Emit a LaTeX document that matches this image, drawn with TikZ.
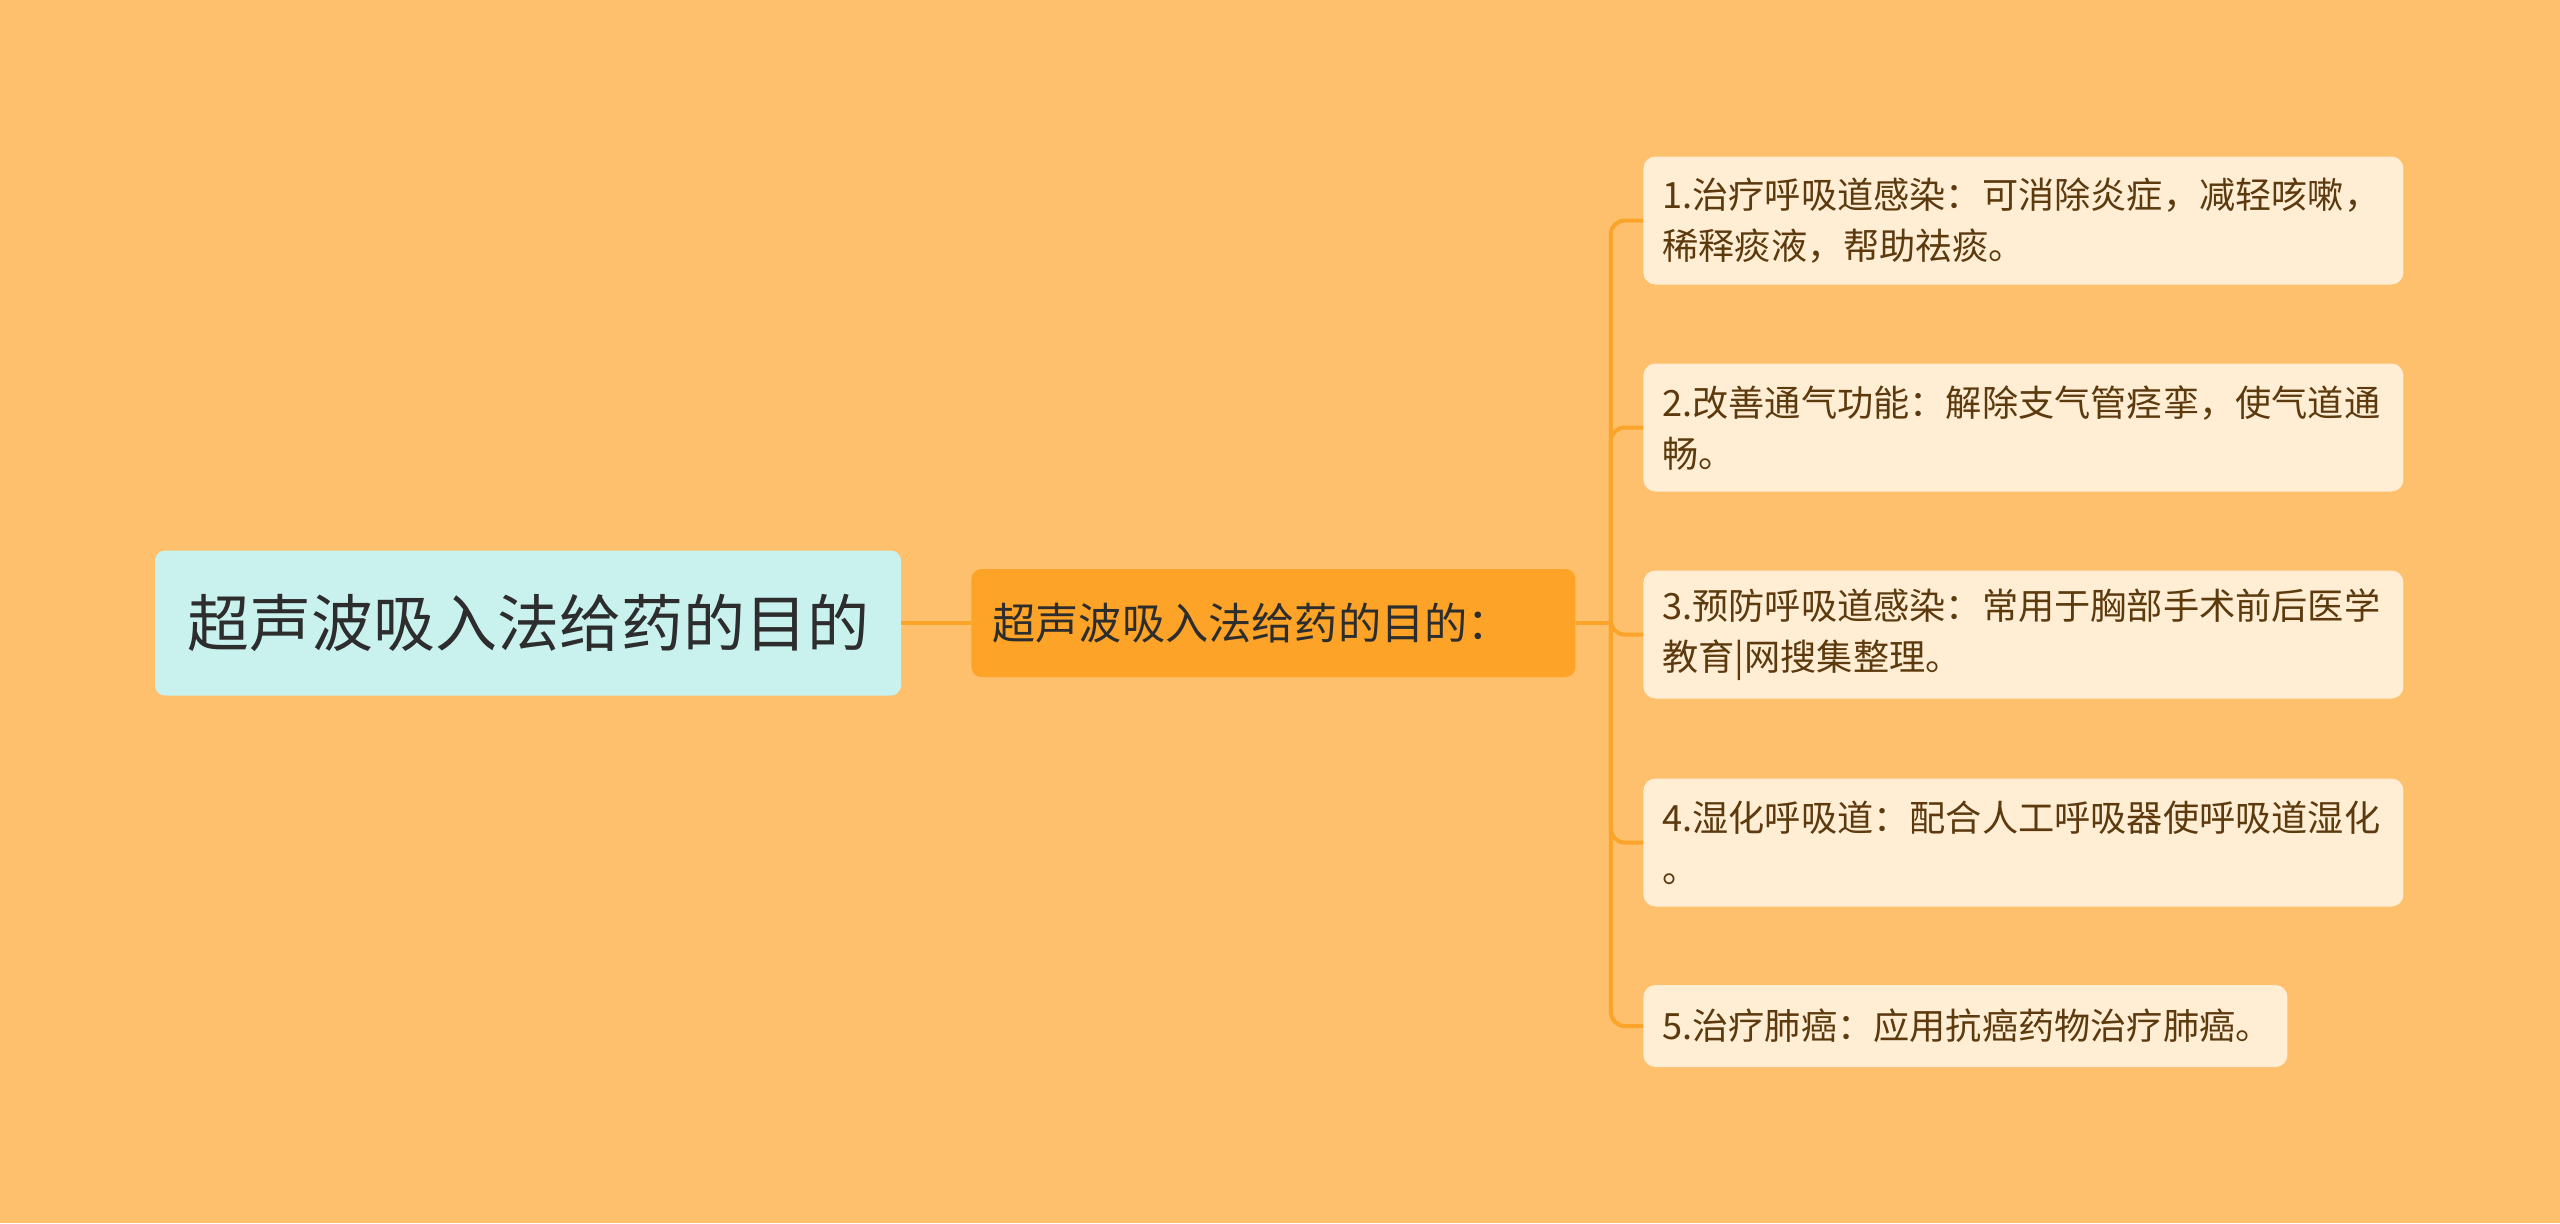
\documentclass[tikz,border=0pt]{standalone}
\usepackage{fontspec}
\setmainfont{Noto Sans CJK SC}
\usetikzlibrary{positioning}
\definecolor{colorbg}    {RGB}{254,192,108}
\definecolor{colorroot}  {RGB}{201,242,239}
\definecolor{colormid}   {RGB}{253,164,40}
\definecolor{colorleaf}  {RGB}{255,237,212}
\definecolor{colorline}  {RGB}{250,165,42}
\definecolor{colortext}  {RGB}{45,45,45}
\definecolor{colorbrown} {RGB}{92,58,14}

\begin{document}
\begin{tikzpicture}[
    x=0.5pt, y=-0.5pt,
    base/.style={rectangle,rounded corners=5pt,inner sep=0pt,align=center},
    rootnode/.style={base,fill=colorroot,text=colortext,font={\fontsize{31}{37}\selectfont},
        minimum width=373pt,minimum height=72.5pt},
    midnode/.style={base,fill=colormid,text=colortext,font={\fontsize{21.6}{26}\selectfont},
        minimum width=302pt,minimum height=54pt,inner xsep=10.5pt,text width=281pt,align=left},
    leafnode/.style={base,rounded corners=6pt,fill=colorleaf,text=colorbrown,anchor=west,
        font={\fontsize{18.1}{25.5}\selectfont},inner xsep=9.5pt,align=left,text width=361pt,
        minimum height=64pt},
    line/.style={draw=colorline,line width=2pt},
    branch/.style={line,rounded corners=7pt},
]

    % Background
    \fill[colorbg] (0,0) rectangle (2560,1223);
    \useasboundingbox (0,0) rectangle (2560,1223);

    % Nodes
    \node[rootnode] (root) at (528,623) {超声波吸入法给药的目的};
    \node[midnode,anchor=west] (mid) at (971,623) {超声波吸入法给药的目的：};

    % Leaves
    \node[leafnode] (leaf1) at (1643,220.5) {1.治疗呼吸道感染：可消除炎症，减轻咳嗽，\\稀释痰液，帮助祛痰。};
    \node[leafnode] (leaf2) at (1643,427.5) {2.改善通气功能：解除支气管痉挛，使气道通\\畅。};
    \node[leafnode] (leaf3) at (1643,634.5) {3.预防呼吸道感染：常用于胸部手术前后医学\\教育|网搜集整理。};
    \node[leafnode] (leaf4) at (1643,842.5) {4.湿化呼吸道：配合人工呼吸器使呼吸道湿化\\。};
    \node[leafnode,text width=303pt,minimum height=41pt] (leaf5) at (1643,1026) {5.治疗肺癌：应用抗癌药物治疗肺癌。};

    % Connectors
    \draw[line] (root) -- (mid);
    \draw[line] (mid.east) -- ++(35,0) coordinate (trunk);
    \foreach \i in {1,...,5}
        \draw[branch] (trunk) |- (leaf\i.west);

\end{tikzpicture}
\end{document}
